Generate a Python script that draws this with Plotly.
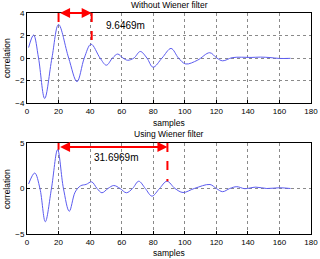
import plotly.graph_objects as go

# ---- data ----
top_x = [1, 4.2, 7.3, 11.2, 15.8, 20, 26.4, 31.7, 36.3, 40.6, 46.3, 50.3, 54.2, 57.5, 60.8,
         63.8, 67.8, 71.8, 76, 79.9, 85.6, 91.3, 96, 100.6, 108, 115.8, 120.3, 124, 130,
         136, 142, 148, 154, 160, 167]
top_y = [0.93, 2.04, 0, -3.6, 0, 2.98, 0, -2.1, 0, 1.23, 0, -0.64, 0, 0.35, 0,
         -0.2, 0, 0.58, 0, -0.82, 0, 0.85, 0, -0.53, -0.2, 0.47, 0, -0.25, 0.03,
         0.07, 0.05, 0.08, 0.04, -0.04, -0.03]

bot_x = [1, 4.9, 8.2, 11.6, 15.5, 19.4, 23.1, 26.8, 30.5, 34, 37.5, 41, 44.4, 47.5, 51.3,
         55, 59, 63, 66.9, 70.8, 75, 79.2, 84, 88.7, 93.8, 98.9, 106, 116, 120, 124,
         128.5, 133, 138, 145, 152, 160, 167]
bot_y = [0.5, 1.7, 0, -3.65, 0, 4.27, 0, -2.5, -0.4, 0.3, 0.45, 0.73, 0, -0.47, 0,
         0.33, 0, -0.47, 0, 0.8, 0, -0.84, 0, 0.8, 0, -0.44, 0, 0.44, 0, -0.35,
         0, 0.2, -0.02, 0.15, 0, 0.08, 0]

x_ticks = [0, 20, 40, 60, 80, 100, 120, 140, 160, 180]
top_yticks = [-4, -2, 0, 2, 4]
bot_yticks = [-5, 0, 5]

top_title = "Without Wiener filter"
bot_title = "Using Wiener filter"
x_label = "samples"
y_label = "correlation"
top_marks = (20, 41, 4, 2.98, 1.23, "9.6469m")
bot_marks = (20, 89, 4.55, 4.27, 0.8, "31.6969m")

BLUE = "#5c5cf0"
RED = "#ff0000"
FONT = "Liberation Sans"

fig = go.Figure()
fig.add_trace(go.Scatter(x=top_x, y=top_y, mode="lines", line=dict(color=BLUE, width=1, shape="spline", smoothing=1.0),
                         xaxis="x", yaxis="y", showlegend=False))
fig.add_trace(go.Scatter(x=bot_x, y=bot_y, mode="lines", line=dict(color=BLUE, width=1, shape="spline", smoothing=1.0),
                         xaxis="x2", yaxis="y2", showlegend=False))

W, H = 320, 259
xdom = [27 / W, 311 / W]
top_dom = [1 - 103 / H, 1 - 13 / H]
bot_dom = [1 - 234 / H, 1 - 143 / H]

axis_common = dict(showline=True, linecolor="black", linewidth=1, mirror=True,
                   ticks="inside", ticklen=3, tickcolor="black", automargin=False,
                   showgrid=True, gridcolor="#8a8a8a", griddash="dot", gridwidth=1,
                   zeroline=False, tickfont=dict(family=FONT, size=8, color="black"))

fig.update_layout(
    width=W, height=H, margin=dict(l=0, r=0, t=0, b=0),
    paper_bgcolor="white", plot_bgcolor="white",
    xaxis=dict(domain=xdom, range=[0, 180], tickvals=x_ticks, anchor="y", **axis_common),
    yaxis=dict(domain=top_dom, range=[-4, 4], tickvals=top_yticks, anchor="x", **axis_common),
    xaxis2=dict(domain=xdom, range=[0, 180], tickvals=x_ticks, anchor="y2", **axis_common),
    yaxis2=dict(domain=bot_dom, range=[-5, 5], tickvals=bot_yticks, anchor="x2", **axis_common),
)

def add_marks(marks, xr, yr, ytop, text_x, text_y):
    x1, x2, ya, yp1, yp2, label = marks
    for xv, yb in ((x1, yp1), (x2, yp2)):
        fig.add_shape(type="line", xref=xr, yref=yr, x0=xv, x1=xv, y0=ytop, y1=yb,
                      line=dict(color=RED, width=2, dash="dash"))
    fig.add_annotation(xref=xr, yref=yr, axref=xr, ayref=yr, x=x2, y=ya, ax=x1, ay=ya,
                       showarrow=True, arrowhead=2, startarrowhead=2, arrowside="end+start",
                       arrowcolor=RED, arrowwidth=2, arrowsize=1, startarrowsize=1, text="")
    fig.add_annotation(xref=xr, yref=yr, x=text_x, y=text_y, text=label, showarrow=False,
                       xanchor="left", yanchor="middle", font=dict(family=FONT, size=10, color="black"))

add_marks(top_marks, "x", "y", 4, 48.5, 2.9)
add_marks(bot_marks, "x2", "y2", 5, 41.5, 3.4)

def label(text, x, y, angle=0, size=8.5):
    fig.add_annotation(xref="paper", yref="paper", x=x / W, y=1 - y / H, text=text, showarrow=False,
                       xanchor="center", yanchor="middle", textangle=angle,
                       font=dict(family=FONT, size=size, color="black"))

label(top_title, 169, 5.5)
label(bot_title, 169, 134)
label(x_label, 169, 122.5)
label(x_label, 169, 253)
label(y_label, 7, 58, -90)
label(y_label, 7, 189, -90)

fig.write_html("out.html")
